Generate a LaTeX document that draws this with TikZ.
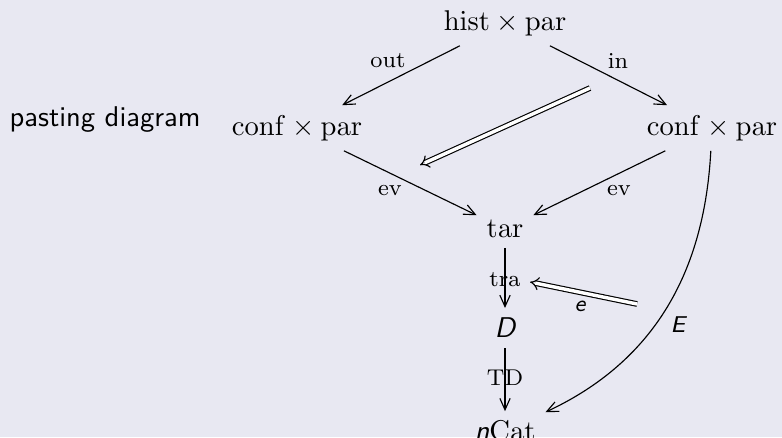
\documentclass[tikz,border=0pt]{standalone}
\usetikzlibrary{arrows.meta}
\definecolor{slidebg}{RGB}{232,232,242}
\newcommand{\sfit}[1]{{\sffamily\slshape #1}}
\begin{document}
\begin{tikzpicture}[x=0.35pt,y=0.35pt,
  obj/.style={inner sep=0.333em},
  map/.style={-{Straight Barb[length=4pt,width=3.6pt]}, line width=0.4pt},
  lbl/.style={font=\footnotesize, inner sep=0pt},
  twocell/.style={double, double distance=1.2pt, line width=0.4pt, -{Implies}}]
% slide background and frame
\fill[slidebg] (0,0) rectangle (782,-437);
\useasboundingbox (0,0) rectangle (782,-437);

% title on the left
\node[anchor=base west, inner sep=0pt] (title) at (9,-127) {\sffamily pasting diagram};

% objects
\node[obj] (hp)  at (505,-23)  {$\mathrm{hist}\times\mathrm{par}$};
\node[obj] (lc)  at (297,-128) {$\mathrm{conf}\times\mathrm{par}$};
\node[obj] (rc)  at (712,-128) {$\mathrm{conf}\times\mathrm{par}$};
\node[obj] (tar) at (505,-229) {$\mathrm{tar}$};
\node[obj] (D)   at (505,-328) {\sfit{D}};
\node[obj] (nc)  at (505,-431) {\sfit{n}$\mathrm{Cat}$};

% 1-cells
\draw[map] (hp) -- (lc);
\draw[map] (hp) -- (rc);
\draw[map] (lc) -- (tar);
\draw[map] (rc) -- (tar);
\draw[map] (tar) -- (D);
\draw[map] (D) -- (nc);
\draw[map] (rc) to[out=-93,in=25] (nc);

% labels of the 1-cells
\node[lbl] (lout) at (388,-61)  {out};
\node[lbl] (lin)  at (618,-61)  {in};
\node[lbl] (lev1) at (390,-191) {ev};
\node[lbl] (lev2) at (619,-191) {ev};
\node[lbl] (ltra) at (505,-280) {tra};
\node[lbl] (lTD)  at (505,-378) {TD};
\node[lbl] (lE)   at (678,-325) {\sfit{E}};

% 2-cells
\coordinate (a1) at (590,-88);
\coordinate (a2) at (420,-165);
\draw[twocell] (a1) -- (a2);
\coordinate (b1) at (637,-304);
\coordinate (b2) at (530,-282);
\draw[twocell] (b1) -- (b2);
\node[lbl] (le) at (580,-306) {\sfit{e}};
\end{tikzpicture}
\end{document}
